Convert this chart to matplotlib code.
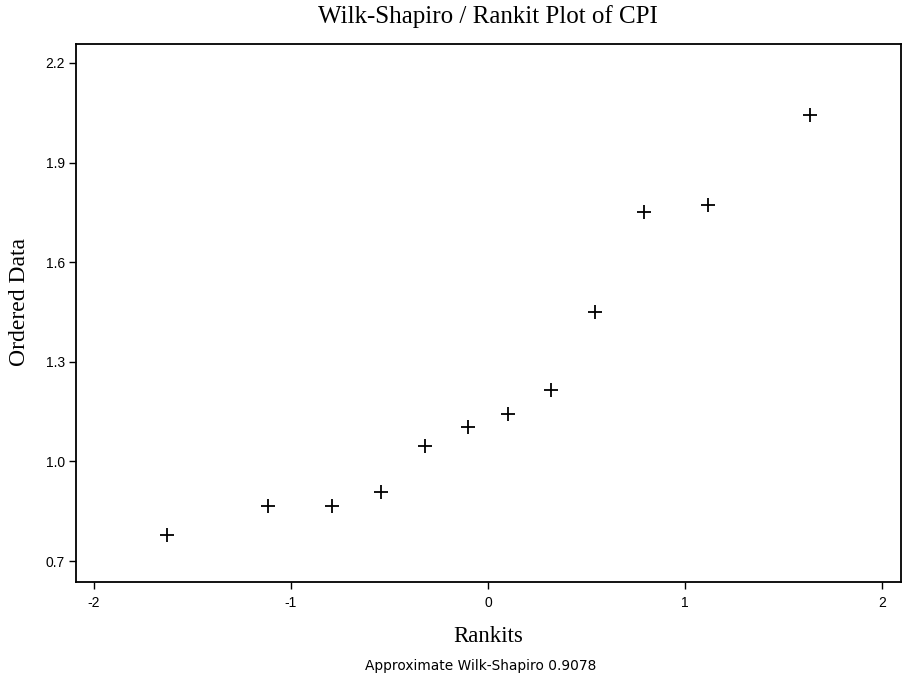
import matplotlib
matplotlib.use("Agg")
import matplotlib.pyplot as plt

rankits = [-1.629, -1.117, -0.792, -0.541, -0.319, -0.103, 0.103, 0.319, 0.541, 0.792, 1.117, 1.632]
ordered = [0.778, 0.866, 0.866, 0.908, 1.046, 1.104, 1.143, 1.215, 1.450, 1.751, 1.772, 2.043]
xticks = [-2, -1, 0, 1, 2]
yticks = [0.7, 1.0, 1.3, 1.6, 1.9, 2.2]
ytick_labels = ["0.7", "1.0", "1.3", "1.6", "1.9", "2.2"]

fig = plt.figure(figsize=(9.11, 6.85), dpi=100)
ax = fig.add_axes([76/911, 1-582/685, (901-76)/911, (582-44)/685])
ax.plot(rankits, ordered, linestyle="none", marker="+", markersize=10,
        markeredgewidth=1.3, color="black")
ax.set_xlim(-2.091, 2.096)
ax.set_ylim(0.637, 2.257)
ax.set_xticks(xticks)
ax.set_xticklabels([str(t) for t in xticks], family="Liberation Sans", fontsize=10)
ax.set_yticks(yticks)
ax.set_yticklabels(ytick_labels, family="Liberation Sans", fontsize=10)
ax.tick_params(direction="out", length=5, width=1, color="black", pad=3)
ax.tick_params(axis="x", pad=5)
for s in ax.spines.values():
    s.set_linewidth(1.3)
    s.set_color("black")

fig.text(488/911, 1-17/685, "Wilk-Shapiro / Rankit Plot of CPI", ha="center", va="center",
         family="Liberation Serif", fontsize=18)
fig.text(488/911, 1-636/685, "Rankits", ha="center", va="center",
         family="Liberation Serif", fontsize=16.5)
fig.text(20/911, 1-302/685, "Ordered Data", ha="center", va="center", rotation=90,
         family="Liberation Serif", fontsize=17)
fig.text(481/911, 1-666/685, "Approximate Wilk-Shapiro 0.9078", ha="center", va="center",
         family="DejaVu Sans", fontsize=9.9)

fig.savefig("out.png", dpi=100)
